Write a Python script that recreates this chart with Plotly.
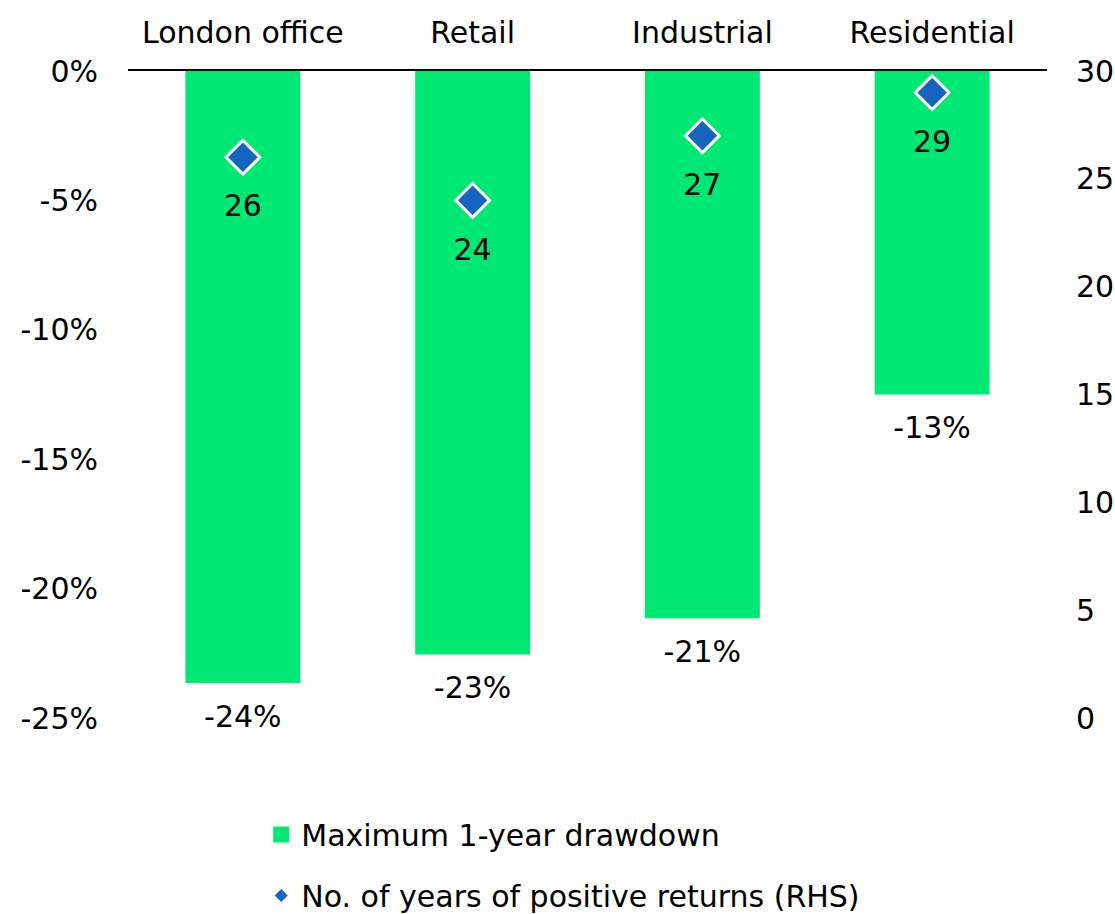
import plotly.graph_objects as go

# ---- data ----
categories = ["London office", "Retail", "Industrial", "Residential"]
drawdown = [-23.65, -22.55, -21.15, -12.5]          # % (bar lengths as drawn)
drawdown_labels = ["-24%", "-23%", "-21%", "-13%"]   # labels as printed
positive_years = [26, 24, 27, 29]                     # RHS
left_ticks = [0, -5, -10, -15, -20, -25]
right_ticks = [0, 5, 10, 15, 20, 25, 30]
series_names = ["Maximum 1-year drawdown", "No. of years of positive returns (RHS)"]

GREEN = "#00E874"
BLUE = "#1565C0"
FONT = "DejaVu Sans, Liberation Sans, Arial, sans-serif"
FS = 30

fig = go.Figure()

# bars
fig.add_trace(go.Bar(
    x=categories, y=drawdown, width=0.5,
    marker=dict(color=GREEN, line=dict(width=0)),
    yaxis="y", showlegend=False, hoverinfo="skip",
))
# bar labels (below bar ends)
fig.add_trace(go.Scatter(
    x=categories, y=drawdown, yaxis="y", mode="markers+text",
    marker=dict(size=32, color="rgba(0,0,0,0)"),
    text=drawdown_labels, textposition="bottom center",
    textfont=dict(size=FS, color="black", family=FONT),
    cliponaxis=False, showlegend=False, hoverinfo="skip",
))
# diamonds on RHS axis
fig.add_trace(go.Scatter(
    x=categories, y=positive_years, yaxis="y2", mode="markers",
    marker=dict(symbol="diamond", size=26, color=BLUE,
                line=dict(color="white", width=3)),
    showlegend=False, cliponaxis=False,
))
# diamond labels
fig.add_trace(go.Scatter(
    x=categories, y=positive_years, yaxis="y2", mode="markers+text",
    marker=dict(size=57, color="rgba(0,0,0,0)"),
    text=[str(v) for v in positive_years], textposition="bottom center",
    textfont=dict(size=FS, color="black", family=FONT),
    cliponaxis=False, showlegend=False, hoverinfo="skip",
))
# legend entries
fig.add_trace(go.Scatter(
    x=[None], y=[None], mode="markers", name=series_names[0],
    marker=dict(symbol="square", size=16, color=GREEN),
    legendgroup="a",
))
fig.add_trace(go.Scatter(
    x=[None], y=[None], mode="markers", name=series_names[1],
    marker=dict(symbol="diamond", size=10, color=BLUE),
    legendgroup="b",
))

fig.update_layout(
    width=1115, height=914,
    margin=dict(l=128, r=68, t=71, b=196, pad=0, autoexpand=False),
    paper_bgcolor="white", plot_bgcolor="white",
    font=dict(family=FONT, size=FS, color="black"),
    xaxis=dict(
        type="category", side="top", showgrid=False, zeroline=False,
        showline=True, linecolor="black", linewidth=2,
        ticks="", ticklabelstandoff=14, tickfont=dict(size=FS),
        range=[-0.5, 3.5], fixedrange=True, automargin=False,
    ),
    yaxis=dict(
        range=[-25, 0], tickvals=left_ticks,
        ticktext=[f"{v}%" for v in left_ticks],
        showgrid=False, zeroline=False, showline=False, ticks="",
        ticklabelstandoff=29, tickfont=dict(size=FS), automargin=False,
    ),
    yaxis2=dict(
        range=[0, 30], tickvals=right_ticks,
        ticktext=[str(v) for v in right_ticks],
        overlaying="y", side="right",
        showgrid=False, zeroline=False, showline=False, ticks="",
        ticklabelstandoff=28, tickfont=dict(size=FS), automargin=False,
    ),
    legend=dict(
        x=0.145, y=-0.14, xanchor="left", yanchor="top",
        orientation="v", font=dict(size=FS), tracegroupgap=19,
        itemsizing="trace", bgcolor="rgba(0,0,0,0)",
    ),
)

fig.write_html(
    "out.html",
    config={"displayModeBar": False},
    post_script="document.body.style.margin='0px';",
)
